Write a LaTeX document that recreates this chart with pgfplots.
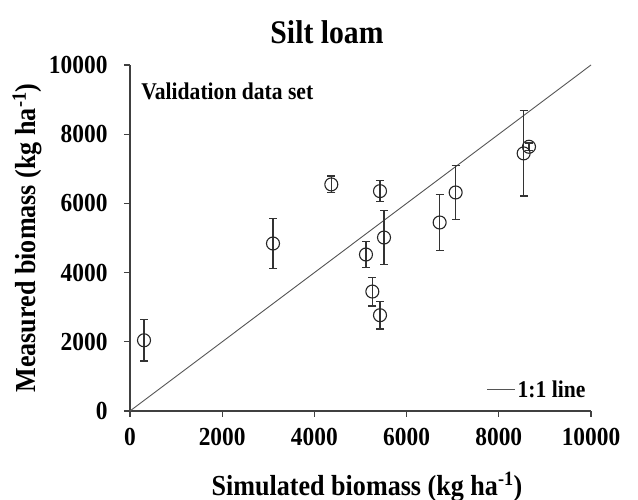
\documentclass[border=0pt]{standalone}
\usepackage{fontspec}
\setmainfont{Liberation Serif}[FakeStretch=0.9]
\usepackage{pgfplots}
\pgfplotsset{compat=1.18}
\usepackage{pgfplotstable}
\definecolor{axgray}{HTML}{404040}
\definecolor{linegray}{HTML}{555555}
\pgfplotstableread{
x y err
304 2044 600
3102 4841 730
4367 6548 240
5423 6355 310
5119 4523 385
5510 5014 780
5257 3452 415
5423 2768 395
6717 5448 810
7064 6316 775
8539 7445 1235
8655 7637 110
}\datatable
\begin{document}
\begin{tikzpicture}
\useasboundingbox (-130pt,-89pt) rectangle (508pt,411pt);
\begin{axis}[
  at={(0pt,0pt)}, anchor=south west,
  scale only axis, width=461pt, height=346pt,
  xmin=0, xmax=10000, ymin=0, ymax=10000,
  xtick={0,2000,...,10000}, ytick={0,2000,...,10000},
  scaled ticks=false,
  axis x line*=bottom, axis y line*=left,
  axis line style={axgray, line width=1.1pt, -},
  tick style={axgray, line width=1.1pt},
  tick align=outside, major tick length=6pt,
  /pgf/number format/assume math mode=true,
  /pgf/number format/set thousands separator={},
  ticklabel style={font=\fontsize{26}{26}\selectfont\bfseries},
  xticklabel style={yshift=-8pt},
  yticklabel style={xshift=-13pt},
  legend style={draw=none, fill=none, at={(0.995,0.061)}, anchor=east,
    font=\fontsize{24}{24}\selectfont\bfseries, inner sep=1pt,
    /tikz/every even column/.append style={column sep=2pt}},
  legend image code/.code={\draw[#1] (0pt,0pt) -- (28pt,0pt);},
  clip=false,
]
\addplot[linegray, line width=0.9pt] coordinates {(0,0) (10000,10000)};
\addlegendentry{1:1 line}
\addplot[only marks, mark=o, mark size=6.5pt, black!85, mark options={line width=1.1pt},
  error bars/.cd, y dir=both, y explicit,
  error bar style={black!80, line width=1.3pt},
  error mark options={rotate=90, mark size=4pt, line width=1.3pt, black!80}]
  table[x=x, y=y, y error=err] {\datatable};
\node[anchor=west, font=\fontsize{24}{24}\selectfont\bfseries, inner sep=0pt] at (axis cs:240,9250) {Validation data set};
\end{axis}
\node[font=\fontsize{33}{33}\selectfont\bfseries] at (197pt,379pt) {Silt loam};
\node[font=\fontsize{29}{29}\selectfont\bfseries] at (237pt,-76pt) {Simulated biomass (kg ha\textsuperscript{-1})};
\node[font=\fontsize{29}{29}\selectfont\bfseries, rotate=90] at (-103pt,173pt) {Measured biomass (kg ha\textsuperscript{-1})};
\end{tikzpicture}
\end{document}
